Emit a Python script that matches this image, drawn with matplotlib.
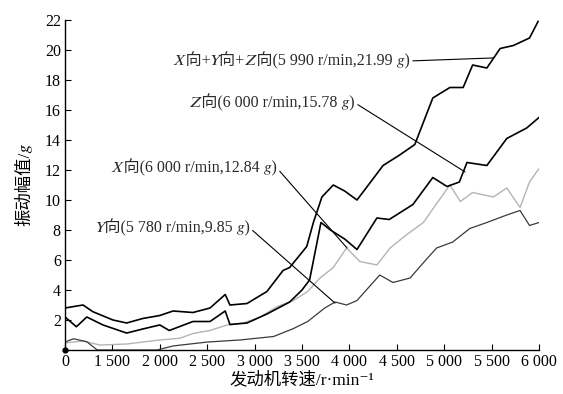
import matplotlib
matplotlib.use("Agg")
from matplotlib import pyplot as plt

# serif digits, CJK glyphs, then STIX / DejaVu for math italic letters and superscripts
plt.rcParams['font.family'] = ['Liberation Serif', 'Noto Sans CJK SC', 'STIXGeneral', 'DejaVu Sans']

# --- data (rpm, g) ---
xyz_rpm = [1000, 1190, 1295, 1506, 1650, 1820, 2000, 2140, 2350, 2530, 2690, 2740, 2920,
           3130, 3300, 3370, 3550, 3620, 3710, 3830, 3950, 4080, 4200, 4355, 4530, 4690,
           4800, 4880, 5060, 5200, 5300, 5450, 5590, 5730, 5900, 5990]
xyz_g = [2.8, 3.0, 2.55, 2.0, 1.8, 2.1, 2.3, 2.6, 2.5, 2.8, 3.7, 3.0, 3.1,
         3.9, 5.3, 5.5, 6.9, 8.5, 10.2, 11.0, 10.6, 10.0, 11.0, 12.3, 13.0, 13.7,
         15.5, 16.8, 17.5, 17.5, 19.0, 18.8, 20.1, 20.3, 20.8, 21.9]

z_rpm = [1000, 1120, 1230, 1400, 1650, 1820, 2000, 2100, 2350, 2530, 2690, 2740, 2920,
         3130, 3370, 3500, 3580, 3700, 3800, 3950, 4080, 4290, 4420, 4670, 4880, 5030,
         5160, 5240, 5450, 5660, 5870, 6000]
z_g = [2.2, 1.55, 2.2, 1.67, 1.13, 1.4, 1.67, 1.3, 1.9, 1.9, 2.6, 1.7, 1.8,
       2.4, 3.2, 4.0, 4.67, 8.5, 8.0, 7.4, 6.7, 8.8, 8.7, 9.7, 11.5, 10.9,
       11.2, 12.5, 12.3, 14.1, 14.8, 15.5]

x_rpm = [1000, 1190, 1370, 1650, 2000, 2210, 2350, 2530, 2710, 2880, 3060, 3240, 3410,
         3560, 3690, 3830, 3970, 4110, 4290, 4430, 4600, 4780, 4880, 5060, 5170, 5300,
         5520, 5660, 5800, 5900, 6000]
x_g = [0.47, 0.6, 0.33, 0.4, 0.67, 0.78, 1.1, 1.3, 1.67, 1.8, 2.2, 2.9, 3.3,
       3.9, 4.8, 5.5, 6.8, 5.9, 5.67, 6.8, 7.67, 8.5, 9.4, 11.0, 9.9, 10.5,
       10.2, 10.8, 9.5, 11.2, 12.1]

y_rpm = [1000, 1090, 1230, 1340, 1500, 1700, 1970, 2140, 2500, 2850, 3200, 3410, 3560,
         3740, 3850, 3970, 4080, 4320, 4460, 4640, 4820, 4920, 5090, 5270, 5450, 5660,
         5800, 5900, 6000]
y_g = [0.53, 0.75, 0.55, 0.0, 0.0, 0.0, 0.0, 0.27, 0.53, 0.67, 0.9, 1.43, 1.9,
       2.8, 3.2, 3.0, 3.3, 5.0, 4.5, 4.8, 6.1, 6.8, 7.2, 8.1, 8.5, 9.0,
       9.3, 8.3, 8.5]

x_ticks = [1000, 1500, 2000, 2500, 3000, 3500, 4000, 4500, 5000, 5500, 6000]
x_ticklabels = ['0', '1 500', '2 000', '2 500', '3 000', '3 500', '4 000',
                '4 500', '5 000', '5 500', '6 000']
y_ticks = [2, 4, 6, 8, 10, 12, 14, 16, 18, 20, 22]

# math italic letters (U+1D44B.. ) for X, Y, Z, g
IX, IY, IZ, IG = '\U0001D44B', '\U0001D44C', '\U0001D44D', '\U0001D454'

# annotations: label, text anchor (right end), line end
notes = [
    (f'{IX}向+{IY}向+{IZ}向(5 990 r/min,21.99 {IG})', (4640, 19.27), (5515, 19.47)),
    (f'{IZ}向(6 000 r/min,15.78 {IG})', (4060, 16.47), (5220, 11.87)),
    (f'{IX}向(6 000 r/min,12.84 {IG})', (3236, 12.13), (3975, 6.8)),
    (f'{IY}向(5 780 r/min,9.85 {IG})', (2950, 8.13), (3848, 3.13)),
]

fig = plt.figure(figsize=(5.63, 3.94), dpi=100)
ax = fig.add_axes([65 / 563, 44 / 394, 474 / 563, 330 / 394])

ax.plot(x_rpm, x_g, color='#b4b4b4', lw=1.0)
ax.plot(y_rpm, y_g, color='#3a3a3a', lw=0.9)
ax.plot(z_rpm, z_g, color='black', lw=1.2)
ax.plot(xyz_rpm, xyz_g, color='black', lw=1.2)
ax.plot([1000], [0], 'o', color='black', ms=3.5, clip_on=False, zorder=5)

for label, txt, end in notes:
    ax.annotate(label, xy=end, xytext=txt, ha='right', va='center', fontsize=11.5,
                color='#2a2a2a',
                arrowprops=dict(arrowstyle='-', lw=0.8, color='black',
                                shrinkA=0, shrinkB=0, relpos=(1, 0.5)))

ax.set_xlim(1000, 6000)
ax.set_ylim(0, 22)
ax.set_xticks(x_ticks)
ax.set_xticklabels(x_ticklabels)
ax.set_yticks(y_ticks)
ax.tick_params(direction='in', length=4, width=0.8, labelsize=11.5, pad=3)
ax.spines['top'].set_visible(False)
ax.spines['right'].set_visible(False)
ax.spines['left'].set_linewidth(1.0)
ax.spines['bottom'].set_linewidth(1.0)

ax.set_xlabel('发动机转速/r·min\u207B\u00B9', fontsize=12.5, labelpad=1)
ax.set_ylabel(f'振动幅值/{IG}', fontsize=12.5, labelpad=9)

fig.savefig('out.png', dpi=100)
